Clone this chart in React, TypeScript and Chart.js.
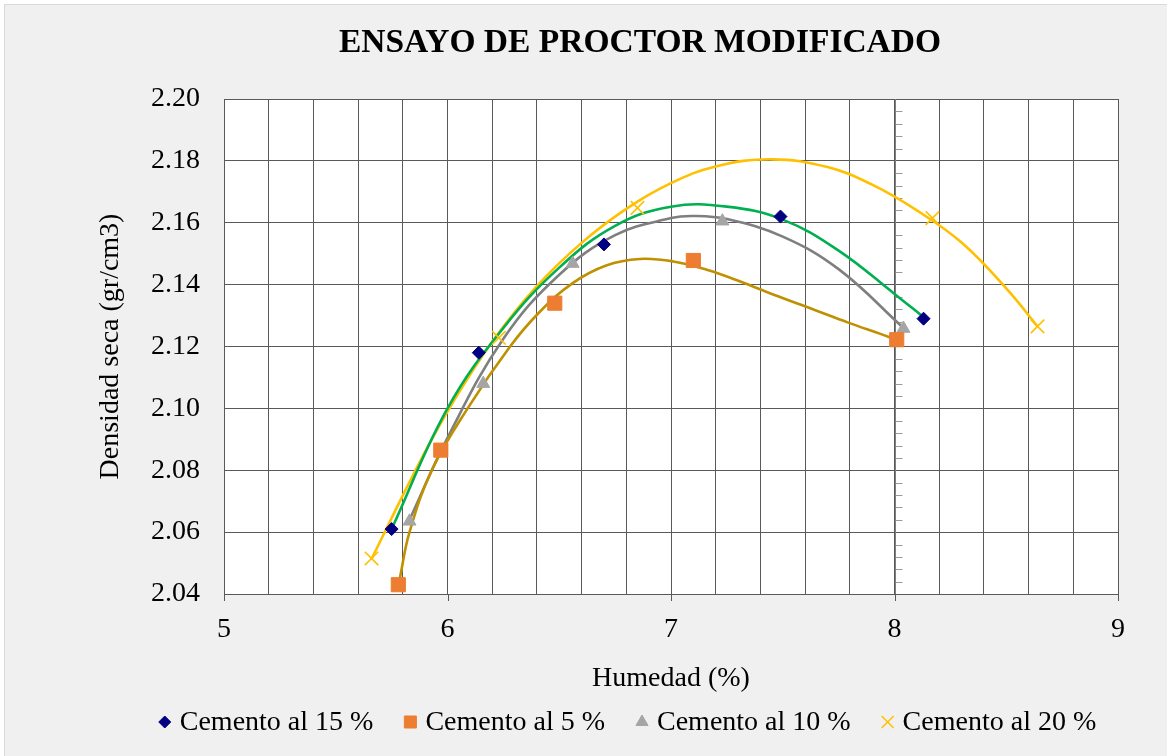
import React, { useEffect, useRef } from 'react';
import { Chart, registerables } from 'chart.js';
import { drawPoint } from 'chart.js/helpers';

Chart.register(...registerables);

const FONT = "'Liberation Serif', 'Times New Roman', serif";

const chartTitle = 'ENSAYO DE PROCTOR MODIFICADO';
const xAxisTitle = 'Humedad (%)';
const yAxisTitle = 'Densidad seca (gr/cm3)';

const seriesLabels = ['Cemento al 15 %', 'Cemento al 5 %', 'Cemento al 10 %', 'Cemento al 20 %'];
const seriesColors = ['#000080', '#ED7D31', '#A5A5A5', '#FFC000'];
const seriesMarkers = ['rectRot', 'rect', 'triangle', 'crossRot'];
const trendColors = ['#00B050', '#BF9000', '#7F7F7F', '#FFC000'];

// measured points
const humedad15 = [5.75, 6.14, 6.70, 7.49, 8.13];
const densidad15 = [2.061, 2.118, 2.153, 2.162, 2.129];
const humedad5 = [5.78, 5.97, 6.48, 7.10, 8.01];
const densidad5 = [2.043, 2.0865, 2.134, 2.1478, 2.1222];
const humedad10 = [5.83, 6.16, 6.56, 7.23, 8.04];
const densidad10 = [2.0635, 2.108, 2.1468, 2.1605, 2.1258];
const humedad20 = [5.66, 6.23, 6.85, 8.17, 8.64];
const densidad20 = [2.0515, 2.1228, 2.1648, 2.1615, 2.1265];

// trend curves
const trendX15 = [5.75, 6.0, 6.25, 6.5, 6.75, 7.0, 7.25, 7.5, 7.75, 8.0, 8.13];
const trendY15 = [2.061, 2.100, 2.126, 2.1455, 2.159, 2.1652, 2.1652, 2.161, 2.151, 2.137, 2.1295];
const trendX5 = [5.787, 5.83, 5.93, 6.09, 6.28, 6.41, 6.56, 6.71, 6.86, 7.01, 7.16, 7.31, 7.46, 7.64, 7.79, 7.94, 8.01];
const trendY5 = [2.0452, 2.060, 2.080, 2.100, 2.120, 2.131, 2.1405, 2.1462, 2.1483, 2.1475, 2.1448, 2.141, 2.1367, 2.1319, 2.1278, 2.124, 2.1222];
const trendX10 = [5.83, 6.0, 6.25, 6.5, 6.75, 7.0, 7.1, 7.25, 7.5, 7.75, 8.04];
const trendY10 = [2.064, 2.0905, 2.1225, 2.1432, 2.156, 2.1615, 2.1622, 2.1612, 2.1555, 2.145, 2.126];
const trendX20 = [5.66, 5.85, 6.0, 6.2, 6.4, 6.6, 6.8, 7.0, 7.2, 7.45, 7.7, 7.9, 8.1, 8.3, 8.5, 8.64];
const trendY20 = [2.0513, 2.079, 2.099, 2.1215, 2.1395, 2.1535, 2.1645, 2.1728, 2.1782, 2.1805, 2.178, 2.1723, 2.164, 2.1536, 2.1388, 2.1265];

const xMin = 5;
const xMax = 9;
const xStep = 0.2;
const yMin = 2.04;
const yMax = 2.2;
const yStep = 0.02;
const yAxisCrossX = 8;
const yMinorStep = 0.004;

const pointsX = [humedad15, humedad5, humedad10, humedad20];
const pointsY = [densidad15, densidad5, densidad10, densidad20];
const trendXs = [trendX15, trendX5, trendX10, trendX20];
const trendYs = [trendY15, trendY5, trendY10, trendY20];
const markerRadius = [6.5, 10, 7.5, 9.5];
const legendRadius = [6, 8.5, 7, 8.5];

const zip = (xs: number[], ys: number[]) => xs.map((x, i) => ({ x, y: ys[i] }));

const GRID = '#595959';
const FS = 28;

const decorPlugin = {
  id: 'decor',
  beforeDraw(chart: any) {
    const { ctx, width, height, chartArea } = chart;
    ctx.save();
    ctx.fillStyle = '#ffffff';
    ctx.fillRect(0, 0, width, height);
    ctx.fillStyle = '#f0f0f0';
    ctx.fillRect(4, 4, width - 4, height - 4);
    ctx.strokeStyle = '#d9d9d9';
    ctx.lineWidth = 1;
    ctx.strokeRect(4.5, 4.5, width - 4, height - 4);
    ctx.fillStyle = '#ffffff';
    ctx.fillRect(chartArea.left, chartArea.top, chartArea.right - chartArea.left, chartArea.bottom - chartArea.top);
    ctx.restore();
  },
  beforeDatasetsDraw(chart: any) {
    const { ctx, chartArea, scales } = chart;
    const xs = scales.x;
    const ys = scales.y;
    ctx.save();
    const ax = Math.round(xs.getPixelForValue(yAxisCrossX)) + 0.5;
    ctx.strokeStyle = '#7f7f7f';
    ctx.lineWidth = 1;
    ctx.beginPath();
    ctx.moveTo(ax, chartArea.top);
    ctx.lineTo(ax, chartArea.bottom);
    ctx.stroke();
    ctx.strokeStyle = '#9a9a9a';
    const n = Math.round((yMax - yMin) / yMinorStep);
    for (let i = 1; i < n; i++) {
      if (i % 5 === 0) continue;
      const py = Math.round(ys.getPixelForValue(yMin + i * yMinorStep)) + 0.5;
      ctx.beginPath();
      ctx.moveTo(ax, py);
      ctx.lineTo(ax + 7, py);
      ctx.stroke();
    }
    ctx.strokeStyle = GRID;
    for (let v = xMin; v <= xMax; v += 1) {
      const px = Math.round(xs.getPixelForValue(v)) + 0.5;
      ctx.beginPath();
      ctx.moveTo(px, chartArea.bottom);
      ctx.lineTo(px, chartArea.bottom + 7);
      ctx.stroke();
    }
    ctx.restore();
  },
  afterDraw(chart: any) {
    const { ctx } = chart;
    ctx.save();
    ctx.fillStyle = '#000000';
    ctx.font = `bold 33.5px ${FONT}`;
    ctx.textAlign = 'center';
    ctx.textBaseline = 'middle';
    ctx.fillText(chartTitle, 640, 43);
    ctx.font = `${FS}px ${FONT}`;
    ctx.textAlign = 'left';
    const boxW = 14;
    const gapMT = 8;
    const gapItem = 30;
    const widths = seriesLabels.map((l) => ctx.measureText(l).width);
    const total = widths.reduce((a, w) => a + boxW + gapMT + w, 0) + gapItem * (seriesLabels.length - 1);
    let x = 627 - total / 2;
    const y = 722;
    seriesLabels.forEach((label, i) => {
      ctx.fillStyle = seriesColors[i];
      ctx.strokeStyle = seriesColors[i];
      ctx.lineWidth = i === 3 ? 1.5 : 1;
      drawPoint(ctx, { pointStyle: seriesMarkers[i] as any, radius: legendRadius[i], rotation: 0, borderWidth: i === 3 ? 1.5 : 1 } as any, x + boxW / 2, y);
      ctx.fillStyle = '#000000';
      ctx.fillText(label, x + boxW + gapMT, y + 1);
      x += boxW + gapMT + widths[i] + gapItem;
    });
    ctx.restore();
  },
};

export default function App() {
  const ref = useRef<HTMLCanvasElement | null>(null);
  useEffect(() => {
    if (!ref.current) return;
    const markerSets = seriesLabels.map((label, i) => ({
      label,
      data: zip(pointsX[i], pointsY[i]),
      showLine: false,
      pointStyle: seriesMarkers[i],
      pointRadius: markerRadius[i],
      pointHoverRadius: markerRadius[i],
      pointBackgroundColor: seriesColors[i],
      pointBorderColor: seriesColors[i],
      pointBorderWidth: i === 3 ? 1.6 : 1,
      backgroundColor: seriesColors[i],
      borderColor: seriesColors[i],
      order: 0,
    }));
    const trendSets = seriesLabels.map((label, i) => ({
      label: 'trend ' + label,
      data: zip(trendXs[i], trendYs[i]),
      showLine: true,
      pointRadius: 0,
      borderColor: trendColors[i],
      borderWidth: 2.6,
      tension: 0.4,
      cubicInterpolationMode: 'default',
      fill: false,
      order: 1,
    }));
    const tickFont = { family: FONT, size: FS };
    const chart = new Chart(ref.current, {
      type: 'scatter',
      data: { datasets: [...markerSets, ...trendSets] as any },
      options: {
        animation: false,
        responsive: false,
        layout: { padding: { top: 99, right: 49, bottom: 61, left: 0 } },
        plugins: { legend: { display: false }, tooltip: { enabled: false }, title: { display: false } },
        scales: {
          x: {
            type: 'linear',
            min: xMin,
            max: xMax,
            ticks: {
              stepSize: xStep,
              autoSkip: false,
              maxRotation: 0,
              font: tickFont,
              color: '#000000',
              padding: 19,
              callback: (v: any) => (Math.abs(v - Math.round(v)) < 1e-6 ? String(Math.round(v)) : ''),
            },
            grid: { color: GRID, lineWidth: 1, drawTicks: false },
            border: { color: GRID, width: 1 },
            title: { display: true, text: xAxisTitle, font: tickFont, color: '#000000', padding: 0 },
            afterFit: (s: any) => {
              s.height = 101;
            },
          },
          y: {
            type: 'linear',
            min: yMin,
            max: yMax,
            ticks: {
              stepSize: yStep,
              font: tickFont,
              color: '#000000',
              padding: 24,
              callback: (v: any) => Number(v).toFixed(2),
            },
            grid: { color: GRID, lineWidth: 1, drawTicks: false },
            border: { color: GRID, width: 1 },
            title: { display: true, text: yAxisTitle, font: tickFont, color: '#000000', padding: { top: 94, bottom: 0 } },
            afterFit: (s: any) => {
              s.width = 224;
            },
          },
        },
      } as any,
      plugins: [decorPlugin],
    });
    return () => chart.destroy();
  }, []);
  return (
    <div style={{ position: 'fixed', left: 0, top: 0, width: 1167, height: 756 }}>
      <canvas ref={ref} width={1167} height={756} style={{ display: 'block' }} />
    </div>
  );
}
